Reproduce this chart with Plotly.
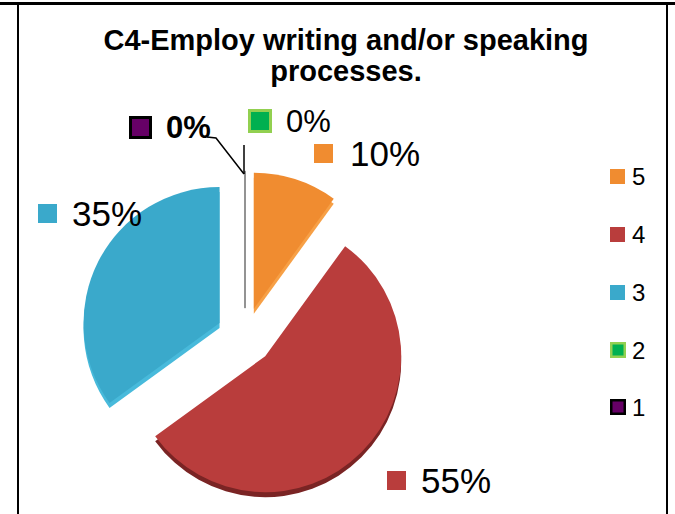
import plotly.graph_objects as go

# Survey answers for item C4 (scale 5 = highest)
categories = ["5", "4", "3", "2", "1"]
values = [10, 55, 35, 0, 0]
percent_labels = [f"{v}%" for v in values]

slice_colors = ["#F08C30", "#B93D3C", "#3AA9CB", "#00B050", "#660066"]
side_colors = ["#F7A046", "#7A2424", "#48BADB", "#00B050", "#660066"]
key_borders = [None, None, None, "#92D050", "#000000"]

title_lines = ["C4-Employ writing and/or speaking", "processes."]

W, H = 675, 514
FONT = "Liberation Sans, Arial, sans-serif"


def px(x):
    return x / W


def py(y):
    return 1 - y / H


# pie geometry (pixels)
cx, cy, r, pull = 245, 336, 136, 0.21
half = r * (1 + pull)
dom_x = [px(cx - half), px(cx + half)]
dom_y = [py(cy + half), py(cy - half)]
depth = 5  # thickness of the extruded rim

fig = go.Figure()

# rim drawn slightly below the faces for a raised look
fig.add_trace(go.Pie(
    labels=categories, values=values, sort=False, direction="clockwise",
    rotation=0, pull=[pull] * len(values),
    marker=dict(colors=side_colors, line=dict(width=0)),
    textinfo="none", hoverinfo="skip", showlegend=False,
    domain=dict(x=dom_x, y=[d - depth / H for d in dom_y]),
))

# slice faces; empty categories show as a thin grey spoke
fig.add_trace(go.Pie(
    labels=categories, values=values, sort=False, direction="clockwise",
    rotation=0, pull=[pull] * len(values),
    marker=dict(colors=slice_colors,
                line=dict(color=["rgba(0,0,0,0)"] * 3 + ["#8C8C8C"] * 2,
                          width=[0, 0, 0, 1.5, 1.5])),
    textinfo="none", hovertemplate="%{label}: %{value}%<extra></extra>",
    showlegend=False, domain=dict(x=dom_x, y=dom_y),
))

annotations = []


def key_box(x, y, size, color, border, bw):
    annotations.append(dict(
        x=px(x), y=py(y), xref="paper", yref="paper", text=" ",
        showarrow=False, width=size, height=size, bgcolor=color,
        bordercolor=border if border else color, borderwidth=bw,
        borderpad=0, font=dict(size=4), xanchor="center", yanchor="middle",
    ))


# data labels with legend keys: (key x, key y, key size, text x, text y, font size, bold)
label_layout = [
    (323, 153, 19, 348, 153, 35, False),
    (396, 480, 19, 419, 480, 35, False),
    (47, 213, 19, 70, 213, 35, False),
    (260, 121, 18, 284, 121, 31, False),
    (140, 127, 17, 164, 127, 31, True),
]
for i, (kx, ky, ks, tx, ty, fs, bold) in enumerate(label_layout):
    b = key_borders[i]
    key_box(kx, ky, ks, slice_colors[i], b, 3 if b else 0)
    txt = f"<b>{percent_labels[i]}</b>" if bold else percent_labels[i]
    annotations.append(dict(
        x=px(tx), y=py(ty), xref="paper", yref="paper", text=txt,
        showarrow=False, xanchor="left", yanchor="middle",
        font=dict(family=FONT, size=fs, color="#000000"),
    ))

# legend column
legend_x, legend_text_x = 617.5, 630
legend_y = [176, 234.5, 292.5, 350, 407]
for i, cat in enumerate(categories):
    b = key_borders[i]
    key_box(legend_x, legend_y[i], 11 if b else 15, slice_colors[i], b, 2.5 if b else 0)
    annotations.append(dict(
        x=px(legend_text_x), y=py(legend_y[i]), xref="paper", yref="paper",
        text=cat, showarrow=False, xanchor="left", yanchor="middle",
        font=dict(family=FONT, size=24, color="#000000"),
    ))

shapes = [
    # frame
    dict(type="line", xref="paper", yref="paper", x0=0, x1=1, y0=py(3.5), y1=py(3.5),
         line=dict(color="#000000", width=3)),
    dict(type="line", xref="paper", yref="paper", x0=px(18), x1=px(18), y0=py(3.5), y1=0,
         line=dict(color="#000000", width=2)),
    dict(type="line", xref="paper", yref="paper", x0=px(667), x1=px(667), y0=py(3.5), y1=0,
         line=dict(color="#000000", width=2)),
    # leader lines for the empty categories
    dict(type="path", xref="paper", yref="paper",
         path=f"M {px(207)},{py(137)} L {px(216)},{py(138)} L {px(244)},{py(174)}",
         line=dict(color="#000000", width=1.5)),
    dict(type="line", xref="paper", yref="paper", x0=px(244), x1=px(244),
         y0=py(145), y1=py(174), line=dict(color="#000000", width=1.5)),
]

# larger glyphs on a tighter line pitch
title_text = "<b>" + "<br>".join(
    f"<span style='font-size:29px'>{line}</span>" for line in title_lines) + "</b>"

fig.update_layout(
    width=W, height=H,
    margin=dict(l=0, r=0, t=0, b=0),
    paper_bgcolor="#FFFFFF", plot_bgcolor="#FFFFFF",
    title=dict(
        text=title_text,
        x=px(346), xanchor="center", y=py(50), yanchor="top",
        yref="container", xref="paper",
        font=dict(family=FONT, size=24, color="#000000"),
    ),
    annotations=annotations,
    shapes=shapes,
    showlegend=False,
)

fig.write_html("out.html")
